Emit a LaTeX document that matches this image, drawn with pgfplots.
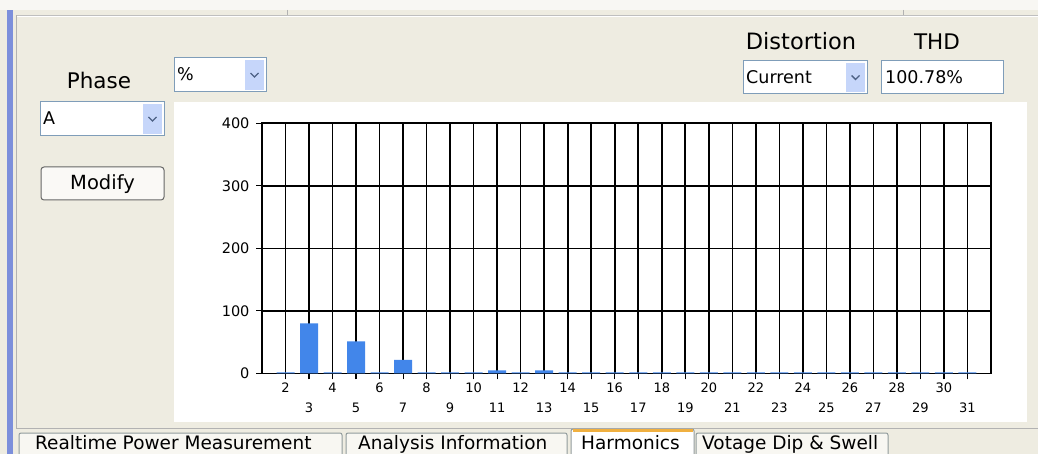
\documentclass[border=0pt]{standalone}
\usepackage{fontspec}
\setmainfont{DejaVu Sans}
\usepackage{pgfplots}
\pgfplotsset{compat=1.18}
\definecolor{bg}{HTML}{EEECE1}
\definecolor{barblue}{HTML}{4286EA}
\definecolor{boxborder}{HTML}{7F9DB9}
\definecolor{arrowbg}{HTML}{C6D6FA}
\definecolor{arrowfg}{HTML}{4D6185}
\definecolor{sidebar}{HTML}{7C8FDB}
\definecolor{tabborder}{HTML}{919B9C}
\definecolor{tabfill}{HTML}{F8F7F2}
\definecolor{taborange}{HTML}{F0B040}
\newcommand{\combo}[5]{%
  \fill[white] (#1,#2) rectangle (#3,#4);
  \fill[arrowbg] (#3-21,#2+2) rectangle (#3-2,#4-2);
  \draw[arrowfg, line width=1.4pt] (#3-15.5,{(#2+#4)/2-2}) -- (#3-11.5,{(#2+#4)/2+2}) -- (#3-7.5,{(#2+#4)/2-2});
  \draw[boxborder, line width=1pt] (#1,#2) rectangle (#3,#4);
  \node[anchor=base west, inner sep=0pt, font=\fontsize{17.5}{20}\selectfont] at (#1+3,{(#2+#4)/2+6}) {#5};
}
\begin{document}
\begin{tikzpicture}
\path[use as bounding box] (0,0) rectangle (1038pt,-454pt);
\begin{scope}[x=1pt,y=-1pt]
  \fill[bg] (0,0) rectangle (1038,454);
  \fill[white!60!bg] (0,0) rectangle (1038,10);
  \draw[black!25, line width=1pt] (16,15.5) -- (1038,15.5);
  \draw[white, line width=1pt] (17,17) -- (1038,17);
  \draw[black!30, line width=0.8pt] (287,10) -- (287,15);
  \draw[black!30, line width=0.8pt] (903,10) -- (903,15);
  \fill[sidebar] (7,10) rectangle (12.5,454);
  \draw[black!30, line width=1pt] (16.5,15.5) -- (16.5,428) -- (1038,428);
  % labels
  \node[anchor=base, inner sep=0pt, font=\fontsize{21.5}{24}\selectfont] at (99,89) {Phase};
  \node[anchor=base, inner sep=0pt, font=\fontsize{22.5}{24}\selectfont] at (801,50) {Distortion};
  \node[anchor=base, inner sep=0pt, font=\fontsize{21.5}{24}\selectfont] at (937,50) {THD};
  \combo{174}{58}{266}{92}{\%}
  \combo{40}{102}{164}{136}{A}
  \combo{743}{61}{867}{94}{Current}
  \fill[white] (881,61) rectangle (1003,94);
  \draw[boxborder, line width=1pt] (881,61) rectangle (1003,94);
  \node[anchor=base west, inner sep=0pt, font=\fontsize{17.5}{20}\selectfont] at (885,83.5) {100.78\%};
  % modify button
  \draw[black!60, line width=1pt, fill=white!70!bg, rounded corners=3pt] (41,167) rectangle (164,200);
  \node[anchor=base, inner sep=0pt, font=\fontsize{19.5}{22}\selectfont] at (102.5,190) {Modify};
  % chart panel
  \fill[white] (174,102) rectangle (1027,422);
  % tabs
  \draw[tabborder, line width=1pt, fill=tabfill, rounded corners=2pt] (19,470) -- (19,433) -- (342,433) -- (342,470);
  \node[anchor=base west, inner sep=0pt, font=\fontsize{18.5}{22}\selectfont] at (35,449) {Realtime Power Measurement};
  \draw[tabborder, line width=1pt, fill=tabfill, rounded corners=2pt] (346,470) -- (346,433) -- (567,433) -- (567,470);
  \node[anchor=base west, inner sep=0pt, font=\fontsize{18.5}{22}\selectfont] at (358,449) {Analysis Information};
  \draw[tabborder, line width=1pt, fill=white, rounded corners=2pt] (571,470) -- (571,429) -- (694,429) -- (694,470);
  \draw[taborange, line width=2.5pt] (572.5,430.5) -- (692.5,430.5);
  \node[anchor=base west, inner sep=0pt, font=\fontsize{18.5}{22}\selectfont] at (581,449.5) {Harmonics};
  \draw[tabborder, line width=1pt, fill=tabfill, rounded corners=2pt] (696,470) -- (696,433) -- (888,433) -- (888,470);
  \node[anchor=base west, inner sep=0pt, font=\fontsize{18.5}{22}\selectfont] at (702,449) {Votage Dip \& Swell};
\end{scope}
\begin{axis}[
  at={(262pt,-373.3pt)}, anchor=south west,
  scale only axis, width=729pt, height=250pt,
  xmin=1, xmax=32, ymin=0, ymax=400,
  enlargelimits=false,
  axis line style={line width=1.6pt, black},
  xtick={2,4,...,30},
  extra x ticks={3,5,...,31},
  extra x tick style={xticklabel style={yshift=-20pt}},
  ytick={0,100,200,300,400},
  grid=major,
  major grid style={line width=1.6pt, black},
  tick pos=left,
  tick align=outside,
  major tick length=6pt,
  tick style={line width=1.2pt, black},
  /pgf/number format/assume math mode=true,
  xticklabel style={font=\fontsize{13}{15}\selectfont},
  yticklabel style={font=\fontsize{14.5}{17}\selectfont, xshift=-3pt},
  ybar, bar width=18pt,
]
\addplot[fill=barblue, draw=none] coordinates {
 (2,1.5) (3,80) (4,1.5) (5,51) (6,1.5) (7,21.5) (8,1.5) (9,1.5) (10,1.5)
 (11,4.5) (12,1.5) (13,4.5) (14,1.5) (15,1.5) (16,1.5) (17,1.5) (18,1.5)
 (19,1.5) (20,1.5) (21,1.5) (22,1.5) (23,1.5) (24,1.5) (25,1.5) (26,1.5)
 (27,1.5) (28,1.5) (29,1.5) (30,1.5) (31,1.5)
};
\end{axis}
\end{tikzpicture}
\end{document}
